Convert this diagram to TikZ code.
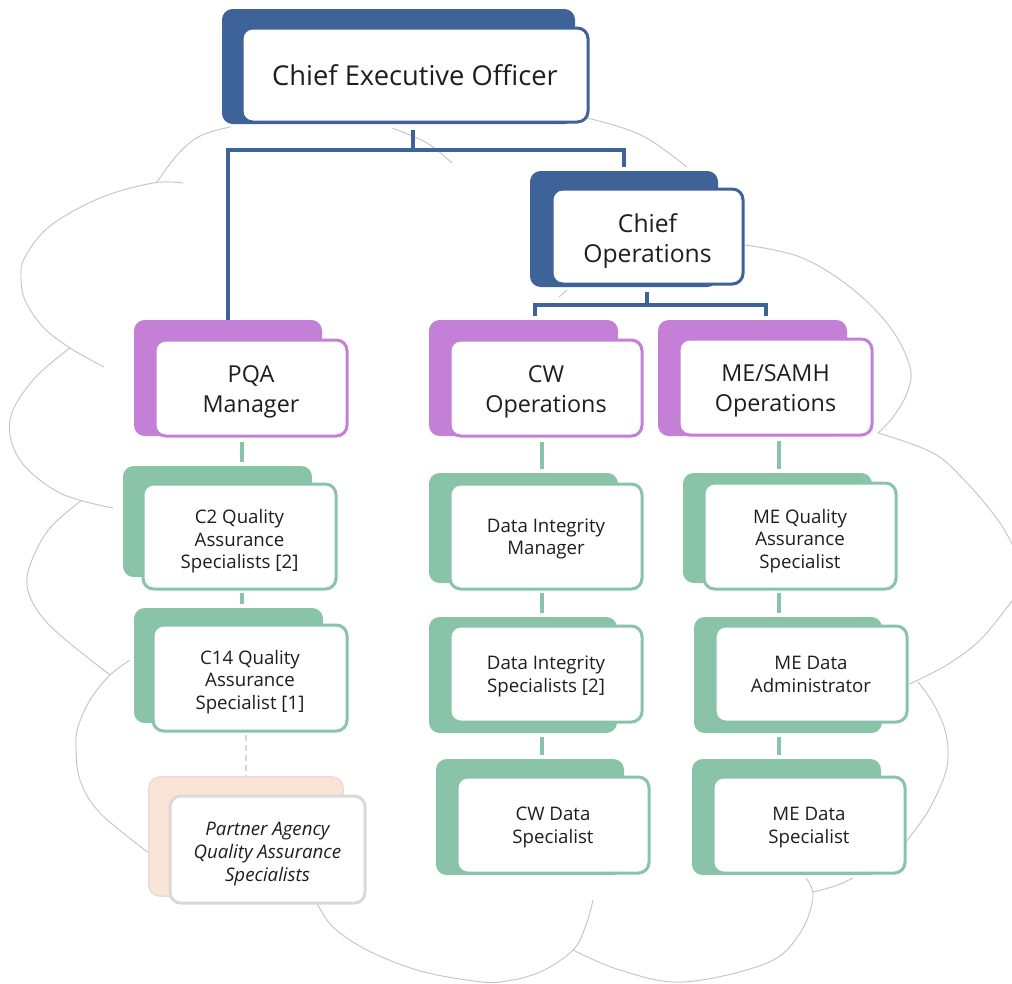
\documentclass[tikz,border=0pt]{standalone}
\usepackage{fontspec}
\setmainfont{Open Sans}
\usetikzlibrary{fit}
\definecolor{cblue}{HTML}{3D6399}
\definecolor{cpurple}{HTML}{C47FD6}
\definecolor{cgreen}{HTML}{89C4A8}
\definecolor{cpeach}{HTML}{FAE4D7}
\definecolor{cgray}{HTML}{D9D9D9}
\definecolor{ccloud}{HTML}{C4C4C4}
\definecolor{ctext}{HTML}{1E1E1E}
\begin{document}
\begin{tikzpicture}[x=0.75pt,y=-0.75pt,
  bbox/.style={rounded corners=8pt, inner sep=0pt, fill=#1, draw=none},
  fbox/.style={rounded corners=8pt, inner sep=0pt, fill=white, draw=#1, line width=2.25pt},
  txt/.style={align=center, text=ctext, inner sep=0pt},
  bl/.style={draw=cblue, line width=3pt},
  gl/.style={draw=cgreen, line width=3pt},
  dl/.style={draw=cgray, line width=1.6pt, dash pattern=on 5pt off 2.5pt},
  cl/.style={draw=ccloud, line width=0.7pt},
  tA/.style={txt, font=\fontsize{20.5}{24}\selectfont},
  tB/.style={txt, font=\fontsize{18.5}{23}\selectfont},
  tC/.style={txt, font=\fontsize{17.5}{22.5}\selectfont},
  tD/.style={txt, font=\fontsize{14}{17}\selectfont},
  tE/.style={txt, font=\fontsize{14}{17}\selectfont\itshape}
]
\useasboundingbox (0,0) rectangle (1012,983);

% cloud outline
\draw[cl] plot[smooth, tension=0.6] coordinates {(230,127) (200,136) (178,154) (157,182)};
\draw[cl] plot[smooth, tension=0.6] coordinates {(183,183) (153,183) (100,198) (50,226) (25,257) (21,277) (25,300) (43,327) (70,348) (104,367)};
\draw[cl] plot[smooth, tension=0.6] coordinates {(70,348) (33,380) (10,420) (20,460) (60,493) (113,508)};
\draw[cl] plot[smooth, tension=0.6] coordinates {(82,500) (50,528) (32,560) (27,585) (37,610) (60,635) (110,675)};
\draw[cl] plot[smooth, tension=0.6] coordinates {(130,660) (110,675) (90,700) (78,727) (76,747) (80,780) (100,813) (149,853)};
\draw[cl] plot[smooth, tension=0.6] coordinates {(317,903) (333,927) (367,950) (417,970) (467,980) (500,982) (540,972) (573,950) (586,925) (593,900)};
\draw[cl] plot[smooth, tension=0.6] coordinates {(573,950) (620,970) (683,982) (767,963) (800,933) (813,897) (806,878)};
\draw[cl] plot[smooth, tension=0.6] coordinates {(813,892) (835,886) (853,878)};
\draw[cl] plot[smooth, tension=0.6] coordinates {(905,843) (927,813) (943,780) (948,757) (945,730) (933,703) (918,682)};
\draw[cl] plot[smooth, tension=0.6] coordinates {(909,684) (918,680) (950,663) (983,637) (1020,590)};
\draw[cl] plot[smooth, tension=0.6] coordinates {(878,433) (933,453) (967,483) (1000,523) (1020,560)};
\draw[cl] plot[smooth, tension=0.6] coordinates {(745,245) (800,257) (850,287) (890,327) (910,367) (907,393) (893,417) (878,433)};
\draw[cl] plot[smooth, tension=0.6] coordinates {(587,118) (620,127) (650,140) (687,167)};
\draw[cl] plot[smooth, tension=0.6] coordinates {(392,128) (427,143) (452,163)};
\draw[cl] (559,297) -- (567,290);

% boxes
\node[bbox=cblue, fit={(222,9)(575,124)}] (ceob) {};
\node[fbox=cblue, fit={(242,28)(588,122)}] (ceo) {};
\node[tA] (ceot) at ([yshift=0pt]ceo.center) {Chief Executive Officer};

\node[bbox=cblue, fit={(530,171)(718,287)}] (cob) {};
\node[fbox=cblue, fit={(552,189)(743,284)}] (co) {};
\node[tB] (cot) at ([yshift=-3.5pt]co.center) {Chief\\Operations};

\node[bbox=cpurple, fit={(134,320)(322,436)}] (pqab) {};
\node[fbox=cpurple, fit={(155,340)(347,436)}] (pqa) {};
\node[tC] (pqat) at ([yshift=-3pt]pqa.center) {PQA\\Manager};

\node[bbox=cpurple, fit={(429,320)(618,436)}] (cwb) {};
\node[fbox=cpurple, fit={(450,340)(642,436)}] (cw) {};
\node[tC] (cwt) at ([yshift=-3pt]cw.center) {CW\\Operations};

\node[bbox=cpurple, fit={(658,320)(847,436)}] (meb) {};
\node[fbox=cpurple, fit={(679,339)(872,435)}] (me) {};
\node[tC] (met) at ([yshift=-3pt]me.center) {ME/SAMH\\Operations};

\node[bbox=cgreen, fit={(123,466)(312,577)}] (c2b) {};
\node[fbox=cgreen, fit={(143,484)(336,589)}] (c2) {};
\node[tD] (c2t) at ([yshift=-3.5pt]c2.center) {C2 Quality\\Assurance\\Specialists [2]};

\node[bbox=cgreen, fit={(134,608)(323,723)}] (c14b) {};
\node[fbox=cgreen, fit={(153,625)(347,731)}] (c14) {};
\node[tD] (c14t) at ([yshift=-3pt]c14.center) {C14 Quality\\Assurance\\Specialist [1]};

\node[bbox=cpeach, draw=cgray!55!cpeach, line width=1.2pt, fit={(149,777)(343,896)}] (pab) {};
\node[fbox=cgray, fit={(170,796)(365,903)}] (pa) {};
\node[tE] (pat) at ([yshift=-3.5pt]pa.center) {Partner Agency\\Quality Assurance\\Specialists};

\node[bbox=cgreen, fit={(429,473)(618,583)}] (dimb) {};
\node[fbox=cgreen, fit={(450,484)(642,589)}] (dim) {};
\node[tD] (dimt) at ([yshift=-1.75pt]dim.center) {Data Integrity\\Manager};

\node[bbox=cgreen, fit={(429,617)(617,733)}] (disb) {};
\node[fbox=cgreen, fit={(450,626)(642,722)}] (dis) {};
\node[tD] (dist) at ([yshift=-2pt]dis.center) {Data Integrity\\Specialists [2]};

\node[bbox=cgreen, fit={(436,759)(624,875)}] (cwdb) {};
\node[fbox=cgreen, fit={(457,777)(649,873)}] (cwd) {};
\node[tD] (cwdt) at ([yshift=-2pt]cwd.center) {CW Data\\Specialist};

\node[bbox=cgreen, fit={(683,473)(872,583)}] (meqb) {};
\node[fbox=cgreen, fit={(704,483)(896,589)}] (meq) {};
\node[tD] (meqt) at ([yshift=-3.75pt]meq.center) {ME Quality\\Assurance\\Specialist};

\node[bbox=cgreen, fit={(694,617)(882,733)}] (medab) {};
\node[fbox=cgreen, fit={(715,626)(907,722)}] (meda) {};
\node[tD] (medat) at ([yshift=-0.5pt]meda.center) {ME Data\\Administrator};

\node[bbox=cgreen, fit={(692,759)(881,875)}] (medsb) {};
\node[fbox=cgreen, fit={(713,777)(905,873)}] (meds) {};
\node[tD] (medst) at ([yshift=-2pt]meds.center) {ME Data\\Specialist};

% connector junctions
\coordinate (j1) at (413,150);
\coordinate (j2) at (647,305);
\coordinate (cwx) at (535,305);
\coordinate (mex) at (766,305);
\coordinate (ca) at (242,0);
\coordinate (cd) at (246,0);
\coordinate (cb) at (542,0);
\coordinate (cc) at (779,0);

% blue connectors
\draw[bl, shorten <=4.5pt] (ceo.south -| j1) -- (j1);
\draw[bl, shorten >=3pt] (pqab.north) |- (j1) -| (cob.north);
\draw[bl, shorten <=5pt] (co.south -| j2) -- (j2);
\draw[bl, shorten <=3pt, shorten >=3pt] (cwb.north -| cwx) -- (cwx) -- (mex) -- (meb.north -| mex);

% green connectors
\draw[gl, shorten <=3pt, shorten >=2.5pt] (pqa.south -| ca) -- (c2b.north -| ca);
\draw[gl, shorten <=1.5pt, shorten >=2.5pt] (c2.south -| ca) -- (c14b.north -| ca);
\draw[dl, shorten <=1.5pt, shorten >=0.5pt] (c14.south -| cd) -- (pab.north -| cd);

\draw[gl, shorten <=3pt, shorten >=3pt] (cw.south -| cb) -- (dimb.north -| cb);
\draw[gl, shorten <=1.5pt, shorten >=3pt] (dim.south -| cb) -- (disb.north -| cb);
\draw[gl, shorten <=3pt, shorten >=3pt] (disb.south -| cb) -- (cwdb.north -| cb);

\draw[gl, shorten <=3pt, shorten >=3pt] (me.south -| cc) -- (meqb.north -| cc);
\draw[gl, shorten <=1.5pt, shorten >=3pt] (meq.south -| cc) -- (medab.north -| cc);
\draw[gl, shorten <=3pt, shorten >=3pt] (medab.south -| cc) -- (medsb.north -| cc);
\end{tikzpicture}
\end{document}
